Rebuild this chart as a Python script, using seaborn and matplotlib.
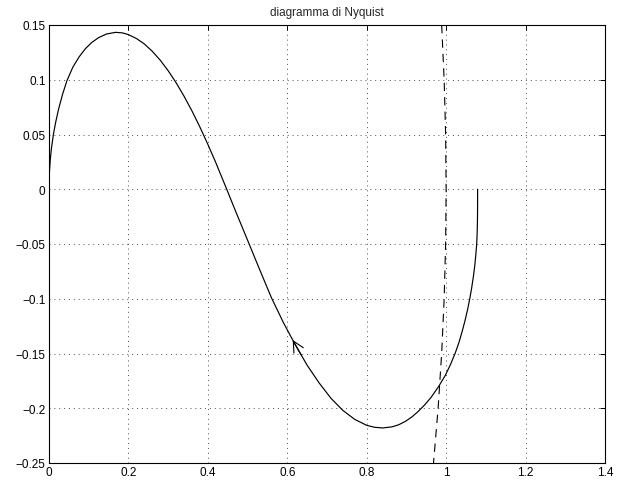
import matplotlib
matplotlib.use("Agg")
import matplotlib.pyplot as plt
from matplotlib.patches import FancyArrowPatch
import pandas as pd
import seaborn as sns

# Nyquist locus, listed from high frequency (origin) to zero frequency
re_part = [0.000, 0.001, 0.003, 0.006, 0.011, 0.017, 0.024, 0.034, 0.045,
           0.060, 0.076, 0.092, 0.1075, 0.125, 0.145, 0.168, 0.185, 0.200,
           0.220, 0.240, 0.260, 0.280, 0.300, 0.320, 0.340, 0.360, 0.380,
           0.400, 0.420, 0.4475, 0.470, 0.500, 0.530, 0.560, 0.590, 0.6137,
           0.620, 0.650, 0.680, 0.710, 0.740, 0.770, 0.800, 0.820, 0.840,
           0.8637, 0.8811, 0.8973, 0.9135, 0.9294, 0.9458, 0.9622, 0.9813,
           0.9978, 1.0110, 1.0225, 1.0322, 1.0402, 1.0475, 1.0539, 1.0595,
           1.0643, 1.0685, 1.0720, 1.0747, 1.0769, 1.0781, 1.0788, 1.0791,
           1.0792, 1.0792]
im_part = [0.000, 0.015, 0.026, 0.037, 0.050, 0.0615, 0.073, 0.0865, 0.0990,
           0.1115, 0.1210, 0.1285, 0.1340, 0.1385, 0.1418, 0.1433, 0.1428,
           0.1412, 0.1377, 0.1327, 0.1260, 0.1179, 0.1083, 0.0973, 0.0850,
           0.0715, 0.0568, 0.0410, 0.0243, 0.000, -0.0202, -0.0465, -0.0730,
           -0.0990, -0.1216, -0.1377, -0.1419, -0.1607, -0.1768, -0.1909,
           -0.2020, -0.2102, -0.2156, -0.2174, -0.2180, -0.2170, -0.2150,
           -0.2120, -0.2080, -0.2030, -0.1970, -0.1900, -0.1800, -0.1700,
           -0.1600, -0.1500, -0.1400, -0.1300, -0.1200, -0.1100, -0.1000,
           -0.0900, -0.0800, -0.0700, -0.0600, -0.0500, -0.0400, -0.0300,
           -0.0200, -0.0100, 0.0000]

# unit circle arc crossing the plotting window
circle_re = [0.9887, 0.9950, 0.9987, 1.0000, 0.9987, 0.9950, 0.9887, 0.9798, 0.9682]
circle_im = [0.15, 0.10, 0.05, 0.00, -0.05, -0.10, -0.15, -0.20, -0.25]

# direction marker on the locus (tail -> tip)
arrow_tail = (0.635, -0.1513)
arrow_tip = (0.6137, -0.1377)

x_ticks = [0, 0.2, 0.4, 0.6, 0.8, 1.0, 1.2, 1.4]
x_tick_labels = ["0", "0.2", "0.4", "0.6", "0.8", "1", "1.2", "1.4"]
y_ticks = [-0.25, -0.2, -0.15, -0.1, -0.05, 0, 0.05, 0.1, 0.15]
y_tick_labels = ["\u22120.25", "\u22120.2", "\u22120.15", "\u22120.1", "\u22120.05",
                 "0", "0.05", "0.1", "0.15"]
title_text = "diagramma di Nyquist"

locus = pd.DataFrame({"re": re_part, "im": im_part})
circle = pd.DataFrame({"re": circle_re, "im": circle_im})

sns.set_style("white")
plt.rcParams["font.family"] = ["Liberation Sans", "DejaVu Sans"]

fig = plt.figure(figsize=(6.21, 4.81), dpi=100)
ax = fig.add_axes([49 / 621, 1 - 464 / 481, (605 - 49) / 621, (464 - 26) / 481])

sns.lineplot(data=locus, x="re", y="im", sort=False, estimator=None,
             color="black", linewidth=0.85, ax=ax)
sns.lineplot(data=circle, x="re", y="im", sort=False, estimator=None,
             color="black", linewidth=0.8, linestyle=(0, (7.5, 5.5)), ax=ax)

ax.add_patch(FancyArrowPatch(arrow_tail, arrow_tip,
                             arrowstyle="->,head_length=0.77,head_width=0.39",
                             mutation_scale=10, color="black", linewidth=0.8,
                             shrinkA=0, shrinkB=0, zorder=3))

ax.set_xlim(0, 1.4)
ax.set_ylim(-0.25, 0.15)
ax.set_xticks(x_ticks)
ax.set_xticklabels(x_tick_labels)
ax.set_yticks(y_ticks)
ax.set_yticklabels(y_tick_labels)
ax.set_xlabel("")
ax.set_ylabel("")

ax.grid(True, color="0.3", linestyle=(0, (1, 4)), linewidth=0.7)
ax.tick_params(axis="both", which="major", direction="in", length=3.5,
               width=0.7, color="black", labelsize=8.5, top=True, right=True,
               labelcolor="black")
ax.tick_params(axis="x", pad=2.5)
ax.tick_params(axis="y", pad=2.5)
for side in ax.spines.values():
    side.set_visible(True)
    side.set_color("black")
    side.set_linewidth(0.8)

ax.set_title(title_text, fontsize=8.5, pad=7)

fig.savefig("out.png", dpi=100)
